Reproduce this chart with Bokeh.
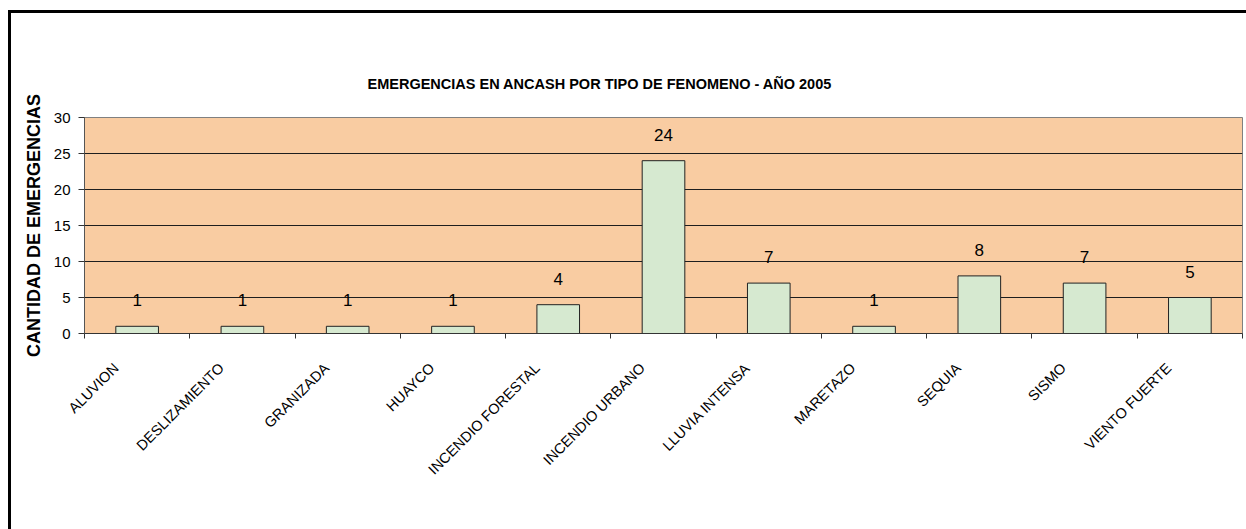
from math import pi
from bokeh.plotting import figure
from bokeh.models import Range1d, LinearAxis, FixedTicker
from bokeh.embed import file_html
from bokeh.resources import INLINE
from bokeh.core.properties import value

categories = ["ALUVION", "DESLIZAMIENTO", "GRANIZADA", "HUAYCO", "INCENDIO FORESTAL",
              "INCENDIO URBANO", "LLUVIA INTENSA", "MARETAZO", "SEQUIA", "SISMO",
              "VIENTO FUERTE"]
counts = [1, 1, 1, 1, 4, 24, 7, 1, 8, 7, 5]
y_ticks = [0, 5, 10, 15, 20, 25, 30]
title_text = "EMERGENCIAS EN ANCASH POR TIPO DE FENOMENO - AÑO 2005"
y_label = "CANTIDAD DE EMERGENCIAS"

FONT = "Liberation Sans"
n = len(categories)
xpos = [i + 0.5 for i in range(n)]          # category centres on a 0..n axis
label_shift = 0.2  # shift of rotated labels to the left, in category units

p = figure(x_range=Range1d(0, n), y_range=Range1d(0, 30),
           frame_width=1158, frame_height=216,
           min_border_left=73, min_border_right=4, min_border_top=104, min_border_bottom=196,
           output_backend="svg", toolbar_location=None,
           x_axis_location=None, y_axis_location="left",
           background_fill_color="#F9CCA2", border_fill_color="white",
           outline_line_color="#808080", outline_line_width=1)
p.styles = {"border-top": "3px solid black", "border-left": "3px solid black",
            "margin-top": "10px", "margin-left": "8px"}

p.extra_x_ranges = {"labels": Range1d(-0.5 + label_shift, n - 0.5 + label_shift)}

p.xgrid.visible = False

# y axis
ya = p.yaxis[0]
ya.ticker = FixedTicker(ticks=y_ticks)
ya.major_tick_out = 6
ya.major_tick_in = 0
ya.minor_tick_line_color = None
ya.major_label_standoff = 8
ya.major_label_text_font = FONT
ya.major_label_text_font_size = "15px"
ya.major_label_text_color = "black"
ya.axis_line_color = "#555555"
ya.major_tick_line_color = "#333333"
ya.axis_label = y_label
ya.axis_label_text_font = FONT
ya.axis_label_text_font_size = "18px"
ya.axis_label_text_font_style = "bold"
ya.axis_label_text_color = "black"
ya.axis_label_standoff = 7

p.ygrid.ticker = FixedTicker(ticks=y_ticks)
p.ygrid.grid_line_color = "#1e1e1e"
p.ygrid.grid_line_width = 1

# x axis: tick marks at category edges (no labels)
edge_axis = LinearAxis(ticker=FixedTicker(ticks=list(range(n + 1))),
                       major_tick_out=5, major_tick_in=0, minor_tick_line_color=None,
                       major_label_text_font_size="1px", major_label_text_color=None,
                       major_label_standoff=0,
                       axis_line_color="#333333", major_tick_line_color="#333333")
p.add_layout(edge_axis, "below")

# x axis: rotated category labels
label_axis = LinearAxis(x_range_name="labels", ticker=FixedTicker(ticks=list(range(n))),
                        major_label_overrides={i: c for i, c in enumerate(categories)},
                        major_label_orientation=pi / 4,
                        major_tick_line_color=None, minor_tick_line_color=None,
                        axis_line_color=None, major_tick_out=0, major_tick_in=0,
                        major_label_standoff=27,
                        major_label_text_font=FONT, major_label_text_font_size="14.5px",
                        major_label_text_color="black")
p.add_layout(label_axis, "below")

p.vbar(x=xpos, top=counts, bottom=0, width=0.405,
       fill_color="#D6E9D0", line_color="#222222", line_width=1)

p.text(x=xpos, y=counts, text=[str(c) for c in counts],
       text_align="center", text_baseline="middle", y_offset=-26,
       text_font=value(FONT), text_font_size="17px", text_color="black")

p.title.text = title_text
p.title.align = "left"
p.title.offset = 283
p.title.standoff = 52
p.title.text_font = FONT
p.title.text_font_size = "14.5px"
p.title.text_font_style = "bold"
p.title.text_color = "black"

open("out.html", "w").write(file_html(p, INLINE))
